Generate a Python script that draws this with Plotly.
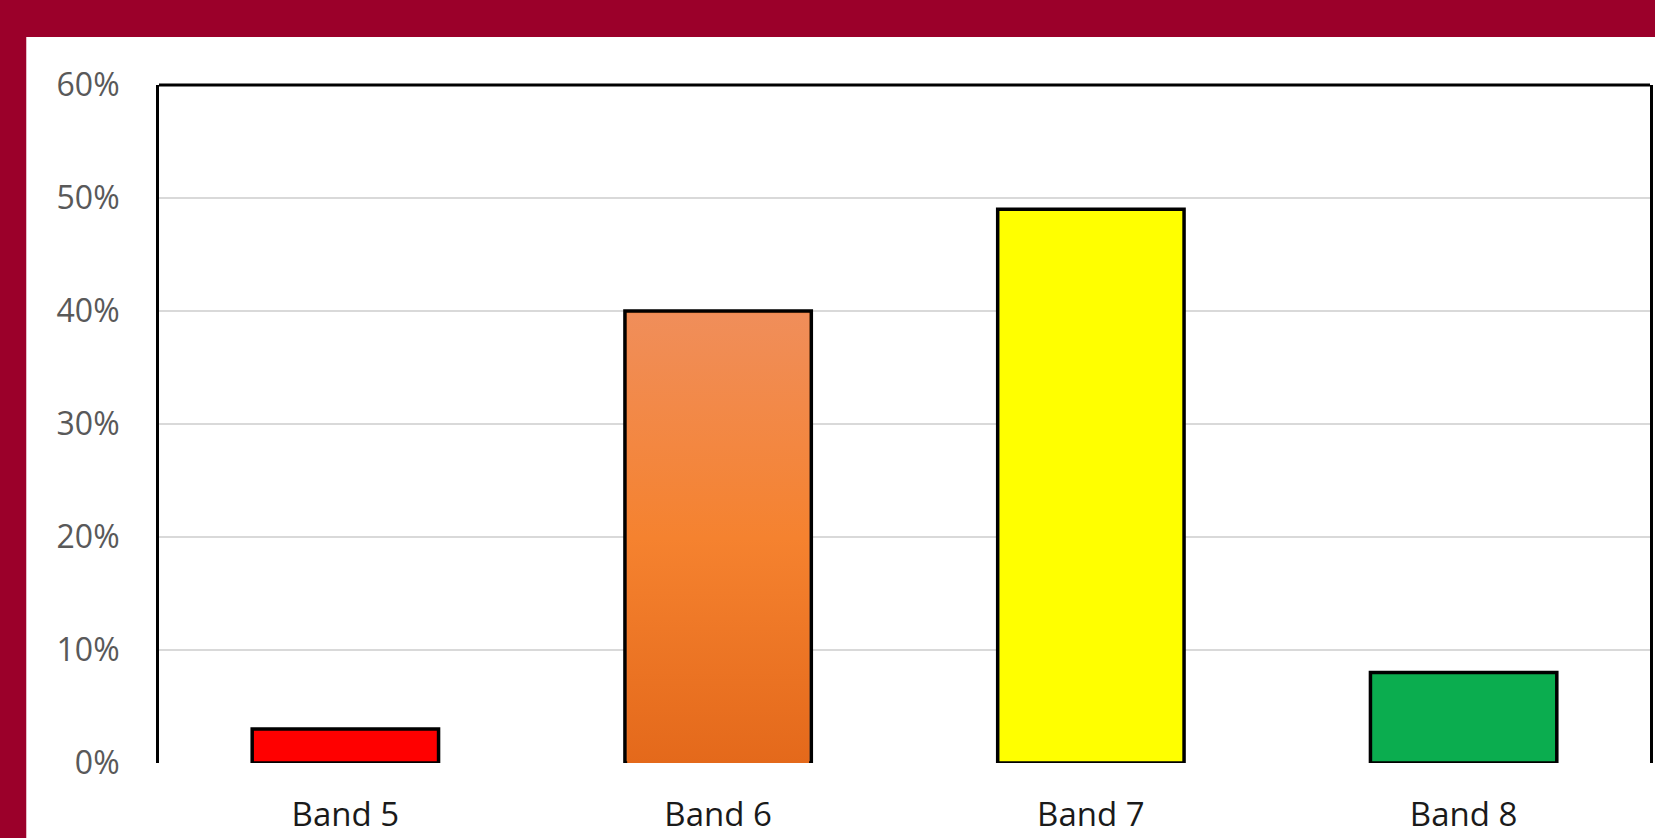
import plotly.graph_objects as go

# Share of staff in each pay band
bands = ["Band 5", "Band 6", "Band 7", "Band 8"]
shares = [0.03, 0.40, 0.49, 0.08]
bar_colors = ["#FF0000", "#F1803A", "#FFFF00", "#0BAD4F"]
y_ticks = [0, 0.1, 0.2, 0.3, 0.4, 0.5, 0.6]

# Band 6 uses a soft vertical orange gradient (bottom -> top)
gradient_band = "Band 6"
gradient_scale = [[0.0, "#E4691B"], [0.5, "#F5822F"], [1.0, "#F08E5A"]]

W, H = 1655, 838
L, R, T, B = 159, 2, 85, 75
PW, PH = W - L - R, H - T - B
BAR_WIDTH = 0.5
OUTLINE = 3.5
Y_MAX = 0.6


def px(x):
    return (x - L) / PW


def py(y):
    return (H - B - y) / PH


fig = go.Figure(
    go.Bar(
        x=bands,
        y=shares,
        width=BAR_WIDTH,
        marker=dict(color=bar_colors, line=dict(color="#000000", width=OUTLINE)),
        hoverinfo="x+y",
    )
)

# gradient fill for the Band 6 bar, inset inside its black outline
gi = bands.index(gradient_band)
gv = shares[gi]
dx = (OUTLINE / 2 + 0.5) * len(bands) / PW
dy = (OUTLINE / 2 + 0.5) * Y_MAX / PH
x_lo, x_hi = gi - BAR_WIDTH / 2 + dx, gi + BAR_WIDTH / 2 - dx
fig.add_trace(
    go.Scatter(
        x=[x_lo, x_hi, x_hi, x_lo, x_lo],
        y=[0, 0, gv - dy, gv - dy, 0],
        xaxis="x2",
        mode="lines",
        line=dict(width=0),
        fill="toself",
        fillgradient=dict(type="vertical", colorscale=gradient_scale),
        hoverinfo="skip",
    )
)

shapes = [
    # white card on the crimson frame
    dict(type="rect", xref="paper", yref="paper", x0=px(26), x1=px(W + 5),
         y0=py(H + 5), y1=py(37), fillcolor="#FFFFFF", line=dict(width=0),
         layer="below"),
    # top border of the plot box
    dict(type="line", xref="paper", yref="paper", x0=0, x1=1, y0=1, y1=1,
         line=dict(color="#000000", width=3)),
]

fig.update_layout(
    width=W,
    height=H,
    margin=dict(l=L, r=R, t=T, b=B, pad=0),
    paper_bgcolor="#9B002A",
    plot_bgcolor="#FFFFFF",
    showlegend=False,
    shapes=shapes,
    font=dict(family="Open Sans, sans-serif"),
    xaxis=dict(
        type="category",
        range=[-0.5, len(bands) - 0.5],
        showgrid=False,
        showline=False,
        zeroline=False,
        ticks="",
        tickfont=dict(size=33, color="#1A1A1A"),
        ticklabelstandoff=29,
    ),
    xaxis2=dict(
        overlaying="x",
        range=[-0.5, len(bands) - 0.5],
        visible=False,
        fixedrange=True,
    ),
    yaxis=dict(
        range=[0, Y_MAX],
        tickvals=y_ticks,
        tickformat=".0%",
        showgrid=True,
        gridcolor="#D9D9D9",
        gridwidth=2,
        zeroline=False,
        showline=True,
        mirror=True,
        linecolor="#000000",
        linewidth=3,
        ticks="",
        tickfont=dict(size=32, color="#595959"),
        ticklabelstandoff=30,
    ),
)

fig.write_html("out.html")
